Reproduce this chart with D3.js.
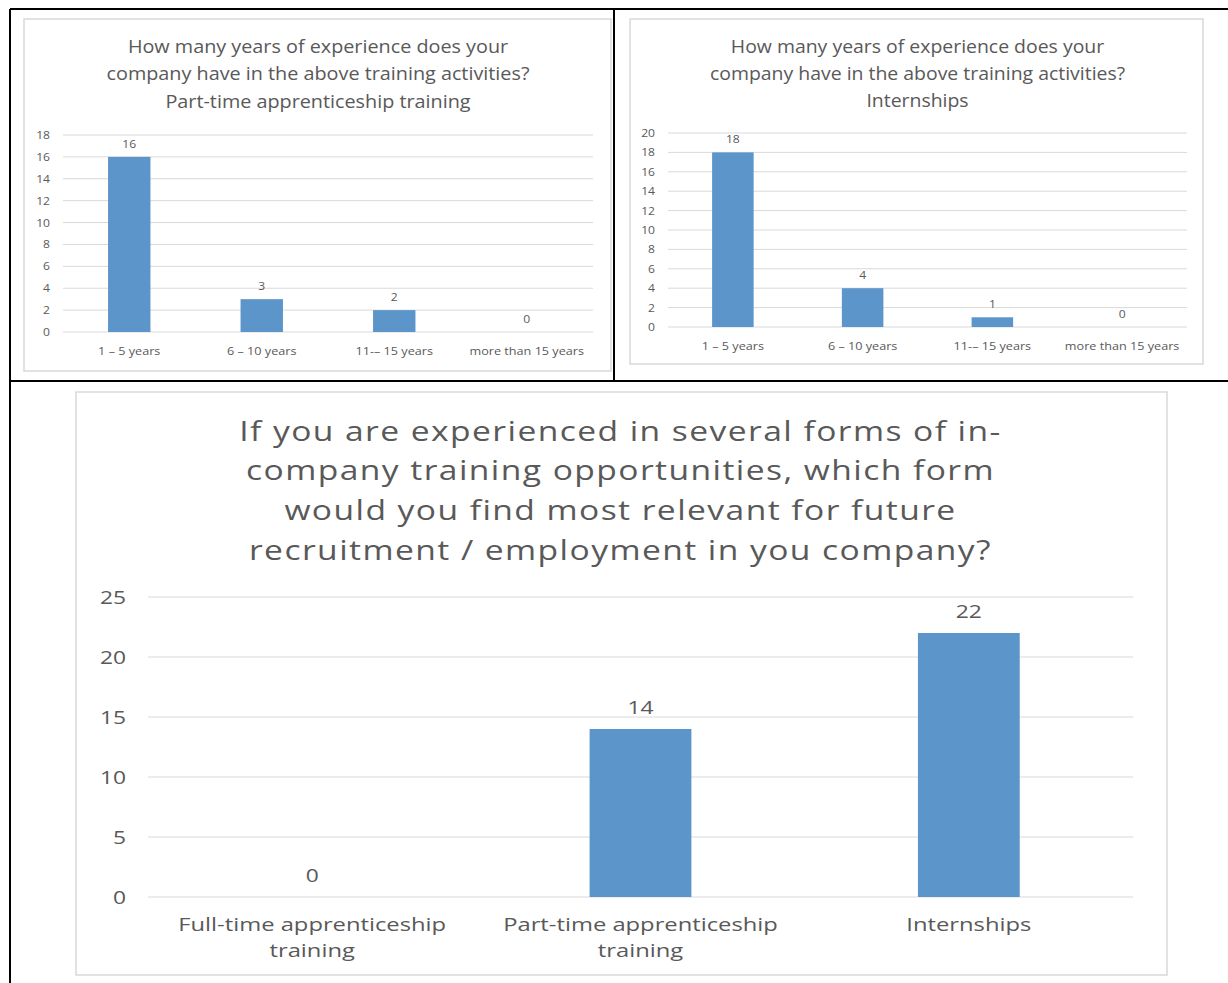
<!DOCTYPE html>
<html>
<head>
<meta charset="utf-8">
<script src="https://cdn.jsdelivr.net/npm/d3@7"></script>
<style>
  html, body { margin: 0; padding: 0; background: #fff; }
  svg { display: block; }
  text { fill: #595959; font-family: "Open Sans", "Noto Sans", sans-serif; }
</style>
</head>
<body>
<svg id="page" width="1228" height="983"></svg>
<script>
// Experience with part-time apprenticeship training
const yearCategories = ["1 – 5 years", "6 – 10 years", "11-– 15 years", "more than 15 years"];
const partTimeYears = [16, 3, 2, 0];
const partTimeTicks = [0, 2, 4, 6, 8, 10, 12, 14, 16, 18];
const partTimeTitle = ["How many years of experience does your", "company have in the above training activities?", "Part-time apprenticeship training"];

// Experience with internships
const internshipYears = [18, 4, 1, 0];
const internshipTicks = [0, 2, 4, 6, 8, 10, 12, 14, 16, 18, 20];
const internshipTitle = ["How many years of experience does your", "company have in the above training activities?", "Internships"];

// Most relevant form for future recruitment
const formCategories = [["Full-time apprenticeship", "training"], ["Part-time apprenticeship", "training"], ["Internships"]];
const formVotes = [0, 14, 22];
const formTicks = [0, 5, 10, 15, 20, 25];
const formTitle = ["If you are experienced in several forms of in-", "company training opportunities, which form", "would you find most relevant for future", "recruitment / employment in you company?"];

const svg = d3.select("#page");
const BAR = "#5b95ca";
const GRID = "#d9d9d9";

// Black table frame around the three panels
const frame = svg.append("g").attr("stroke", "#000").attr("stroke-width", 2);
frame.append("line").attr("x1", 10).attr("x2", 1228).attr("y1", 9).attr("y2", 9);
frame.append("line").attr("x1", 10).attr("x2", 10).attr("y1", 9).attr("y2", 983);
frame.append("line").attr("x1", 614).attr("x2", 614).attr("y1", 9).attr("y2", 381);
frame.append("line").attr("x1", 10).attr("x2", 1228).attr("y1", 381).attr("y2", 381);

// Places a text at (x, y) with its glyphs widened horizontally by sx
function placeWide(sel, x, y, sx) {
  sel.attr("x", 0).attr("y", 0)
    .attr("transform", `translate(${x},${y}) scale(${sx},1)`);
}

function barChart(o) {
  const g = svg.append("g");
  // chart area border
  g.append("rect")
    .attr("x", o.box[0]).attr("y", o.box[1])
    .attr("width", o.box[2] - o.box[0]).attr("height", o.box[3] - o.box[1])
    .attr("fill", "#fff").attr("stroke", GRID).attr("stroke-width", 1.5);

  // title
  const cx = (o.plot.left + o.plot.right) / 2 + (o.titleDx || 0);
  o.title.forEach((line, i) => {
    g.append("text")
      .attr("text-anchor", "middle")
      .attr("font-size", o.titleSize)
      .attr("letter-spacing", o.titleSpacing || 0)
      .text(line)
      .call(placeWide, cx, o.titleY[i], o.titleScale);
  });

  const x = d3.scaleBand().domain(o.categories.map((d, i) => i))
    .range([o.plot.left, o.plot.right]).paddingInner(o.pad).paddingOuter(o.pad / 2);
  const y = d3.scaleLinear().domain([0, d3.max(o.ticks)])
    .range([o.plot.bottom, o.plot.top]);

  // gridlines
  g.append("g").selectAll("line").data(o.ticks).join("line")
    .attr("x1", o.plot.left).attr("x2", o.plot.right)
    .attr("y1", d => y(d)).attr("y2", d => y(d))
    .attr("stroke", GRID).attr("stroke-width", o.gridWidth || 1);

  // y axis labels
  const yAxis = g.append("g")
    .attr("transform", `translate(${o.plot.left - o.tickGap},0)`)
    .call(d3.axisLeft(y).tickValues(o.ticks).tickSize(0).tickPadding(0));
  yAxis.select(".domain").remove();
  yAxis.selectAll("text")
    .attr("font-size", o.tickSize)
    .style("font-family", '"Open Sans", "Noto Sans", sans-serif')
    .attr("fill", "#595959")
    .attr("x", 0)
    .attr("transform", `scale(${o.tickScale || o.labelScale},1)`);

  // bars
  g.append("g").selectAll("rect").data(o.values).join("rect")
    .attr("x", (d, i) => x(i)).attr("width", x.bandwidth())
    .attr("y", d => y(d)).attr("height", d => y(0) - y(d))
    .attr("fill", BAR);

  // value labels
  g.append("g").selectAll("text").data(o.values).join("text")
    .attr("text-anchor", "middle")
    .attr("font-size", o.valueSize)
    .text(d => d)
    .each(function(d, i) {
      placeWide(d3.select(this), x(i) + x.bandwidth() / 2, y(d) - o.valueGap, o.tickScale || o.labelScale);
    });

  // category labels
  g.append("g").selectAll("text").data(o.categories).join("text")
    .attr("text-anchor", "middle")
    .attr("font-size", o.catSize)
    .each(function(d, i) {
      const t = d3.select(this);
      placeWide(t, x(i) + x.bandwidth() / 2, o.plot.bottom + o.catGap, o.labelScale);
      const lines = Array.isArray(d) ? d : [d];
      t.selectAll("tspan").data(lines).join("tspan")
        .attr("x", 0)
        .attr("dy", (l, k) => k === 0 ? 0 : o.catLine)
        .text(l => l);
    });
}

barChart({
  box: [24, 19, 611, 371],
  plot: { left: 63, right: 593, top: 135, bottom: 332 },
  title: partTimeTitle, titleY: [53, 80, 108], titleSize: 18, titleScale: 1.1, titleDx: -10,
  categories: yearCategories, values: partTimeYears, ticks: partTimeTicks,
  pad: 0.68, tickGap: 13, tickSize: 11, valueSize: 11, valueGap: 9,
  catSize: 11.5, catGap: 23, catLine: 14, labelScale: 1.1
});

barChart({
  box: [630, 19, 1203, 364],
  plot: { left: 668, right: 1187, top: 133, bottom: 327 },
  title: internshipTitle, titleY: [53, 80, 107], titleSize: 18, titleScale: 1.08, titleDx: -10,
  categories: yearCategories, values: internshipYears, ticks: internshipTicks,
  pad: 0.68, tickGap: 13, tickSize: 11, valueSize: 11, valueGap: 9,
  catSize: 11.5, catGap: 23, catLine: 14, labelScale: 1.1
});

barChart({
  box: [76, 392, 1167, 975],
  plot: { left: 148, right: 1133, top: 597, bottom: 897 },
  title: formTitle, titleY: [441, 480, 520, 560], titleSize: 28, titleSpacing: 1.2, titleScale: 1.2, titleDx: -20,
  categories: formCategories, values: formVotes, ticks: formTicks,
  pad: 0.69, tickGap: 22, tickSize: 19, valueSize: 19, valueGap: 15,
  catSize: 19, catGap: 34, catLine: 26, labelScale: 1.25, tickScale: 1.2
});
</script>
</body>
</html>
